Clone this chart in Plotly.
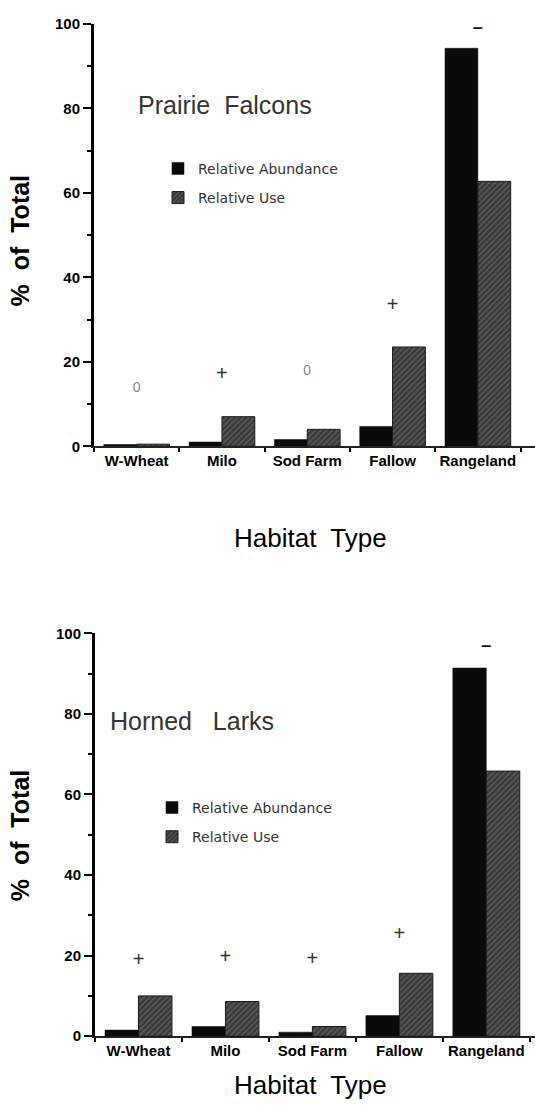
import plotly.graph_objects as go

categories = ["W-Wheat", "Milo", "Sod Farm", "Fallow", "Rangeland"]

pf_abundance = [0.4, 1.0, 1.6, 4.7, 94.2]
pf_use = [0.5, 7.0, 4.0, 23.5, 62.7]
pf_sig = ["0", "+", "0", "+", "–"]
pf_sig_y = [13.7, 16.8, 17.7, 33.3, 99.0]

hl_abundance = [1.5, 2.4, 1.0, 5.1, 91.4]
hl_use = [10.0, 8.6, 2.4, 15.6, 65.8]
hl_sig = ["+", "+", "+", "+", "–"]
hl_sig_y = [18.6, 19.3, 18.8, 25.2, 96.8]

y_ticks = [0, 20, 40, 60, 80, 100]
series_names = ["Relative Abundance", "Relative Use"]
panel_titles = ["Prairie  Falcons", "Horned   Larks"]

W, H = 535, 1119
FONT = "Liberation Sans, Arial, sans-serif"
LFONT = "DejaVu Sans, Verdana, sans-serif"

fig = go.Figure()

sig_colors = {"0": "#8a8a8a", "+": "#333333", "–": "#111111"}
sig_sizes = {"0": 14, "+": 20, "–": 18}
sig_weights = {"0": "normal", "+": "normal", "–": "bold"}

panels = [
    (pf_abundance, pf_use, pf_sig, pf_sig_y, "x", "y", "legend"),
    (hl_abundance, hl_use, hl_sig, hl_sig_y, "x2", "y2", "legend2"),
]
for ab, use, sig, sig_y, xa, ya, lg in panels:
    fig.add_trace(go.Bar(
        x=categories, y=ab, name=series_names[0], xaxis=xa, yaxis=ya,
        legend=lg, legendgroup=lg + "a",
        marker=dict(color="#0a0a0a", line=dict(color="#0a0a0a", width=0.5)),
    ))
    fig.add_trace(go.Bar(
        x=categories, y=use, name=series_names[1], xaxis=xa, yaxis=ya,
        legend=lg, legendgroup=lg + "b",
        marker=dict(color="#3a3a3a", line=dict(color="#1a1a1a", width=1),
                    pattern=dict(shape="/", fgcolor="#9a9a9a", bgcolor="#3a3a3a",
                                 size=4, solidity=0.25)),
    ))
    fig.add_trace(go.Scatter(
        x=categories, y=sig_y, mode="text", text=sig, xaxis=xa, yaxis=ya,
        showlegend=False, hoverinfo="skip",
        textfont=dict(family=FONT, size=[sig_sizes[s] for s in sig],
                      color=[sig_colors[s] for s in sig],
                      weight=[sig_weights[s] for s in sig]),
    ))

def yax(domain, anchor):
    return dict(domain=domain, range=[0, 100], tickvals=y_ticks, ticks="outside",
                ticklen=8, tickwidth=2, tickcolor="#000", showline=True, linewidth=3,
                linecolor="#000", showgrid=False, zeroline=False, anchor=anchor,
                tickfont=dict(family=FONT, size=15, color="#000", weight="bold"),
                minor=dict(dtick=10, ticks="outside", ticklen=4, tickwidth=1.5,
                           tickcolor="#000", showgrid=False))

def xax(domain, rng, anchor):
    return dict(domain=domain, range=rng, type="category", tickson="boundaries",
                ticks="outside", ticklen=4, tickwidth=2, tickcolor="#000",
                showline=True, linewidth=2, linecolor="#222", showgrid=False,
                anchor=anchor, tickangle=0,
                tickfont=dict(family=FONT, size=15, color="#000", weight="bold"))

top0, top100 = 444, 15
bot0, bot100 = 1043, 634

fig.update_layout(
    width=W, height=H, margin=dict(l=0, r=0, t=0, b=0),
    paper_bgcolor="white", plot_bgcolor="white",
    barmode="group", bargap=0.23, bargroupgap=0,
    xaxis=xax([94 / W, 1], [-0.5, 4.67], "y"),
    yaxis=yax([(H - top0) / H, (H - top100) / H], "x"),
    xaxis2=xax([95 / W, 1], [-0.5, 4.56], "y2"),
    yaxis2=yax([(H - bot0) / H, (H - bot100) / H], "x2"),
    legend=dict(x=158 / W, y=(H - 146) / H, xanchor="left", yanchor="top",
                bgcolor="rgba(0,0,0,0)", tracegroupgap=8,
                font=dict(family=LFONT, size=14, color="#333")),
    legend2=dict(x=152 / W, y=(H - 795) / H, xanchor="left", yanchor="top",
                 bgcolor="rgba(0,0,0,0)", tracegroupgap=8,
                 font=dict(family=LFONT, size=14, color="#333")),
    showlegend=True,
)

ann = []
ann.append(dict(text=panel_titles[0], x=136 / W, y=(H - 97) / H, xref="paper", yref="paper",
                xanchor="left", yanchor="middle", showarrow=False,
                font=dict(family=FONT, size=25, color="#333")))
ann.append(dict(text=panel_titles[1], x=108 / W, y=(H - 723) / H, xref="paper", yref="paper",
                xanchor="left", yanchor="middle", showarrow=False,
                font=dict(family=FONT, size=25, color="#333")))
for yc in [236, 840]:
    ann.append(dict(text="%  of  Total", x=20 / W, y=(H - yc) / H, xref="paper", yref="paper",
                    textangle=-90, xanchor="center", yanchor="middle", showarrow=False,
                    font=dict(family=FONT, size=25, color="#000", weight="bold")))
for yc in [537, 1093]:
    ann.append(dict(text="Habitat  Type", x=310 / W, y=(H - yc) / H, xref="paper", yref="paper",
                    xanchor="center", yanchor="middle", showarrow=False,
                    font=dict(family=FONT, size=26, color="#000")))
fig.update_layout(annotations=ann)

fig.write_html("out.html", config={"displayModeBar": False},
               post_script="document.body.style.margin='0';")
